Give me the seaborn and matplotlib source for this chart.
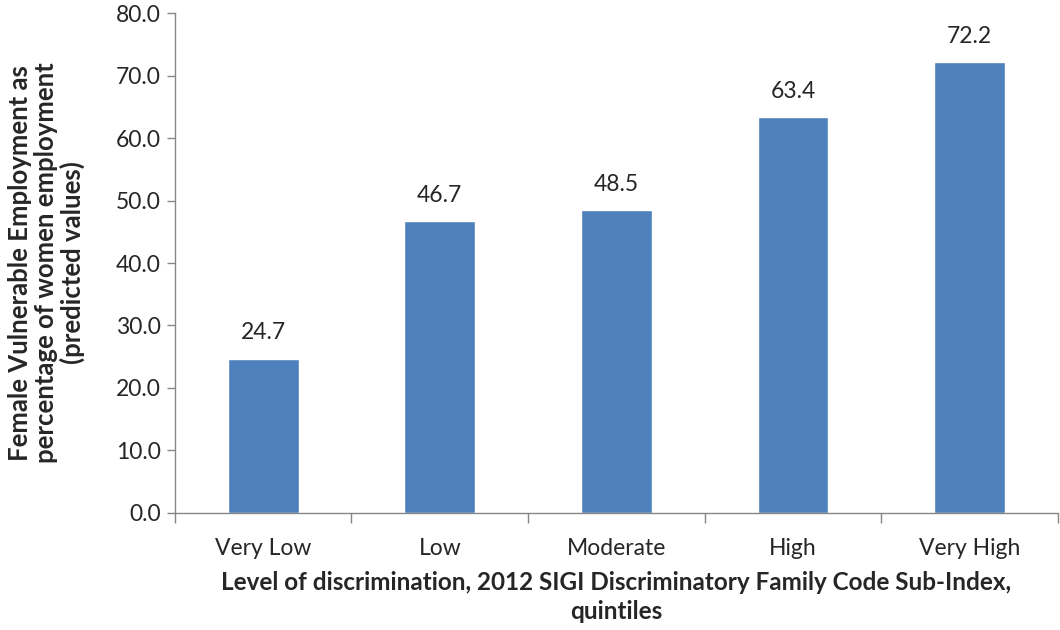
import matplotlib
matplotlib.use("Agg")
import matplotlib.pyplot as plt
import seaborn as sns
import pandas as pd
import numpy as np

categories = ["Very Low", "Low", "Moderate", "High", "Very High"]
values = [24.7, 46.7, 48.5, 63.4, 72.2]
yticks = [0, 10, 20, 30, 40, 50, 60, 70, 80]

sns.set_theme(style="white")
plt.rcParams['font.family'] = ['Lato', 'DejaVu Sans']

df = pd.DataFrame({"cat": categories, "val": values})

fig = plt.figure(figsize=(10.6, 6.3), dpi=100)
ax = fig.add_axes([0.165, 0.186, 0.833, 0.793])
sns.barplot(data=df, x="cat", y="val", color="#4F81BD", saturation=1, width=0.4, ax=ax)

gray = "#868686"
fs = 16.5
ax.set_ylim(0, 80)
ax.set_xlim(-0.5, len(categories) - 0.5)
ax.set_yticks(yticks)
ax.set_yticklabels([f"{v:.1f}" for v in yticks], fontsize=fs)
ax.tick_params(axis="y", length=6, color=gray, width=1, direction="out", left=True, pad=4)
ax.tick_params(axis="x", which="major", length=0, labelsize=fs, pad=18)
ax.set_xticks(np.arange(-0.5, len(categories)), minor=True)
ax.tick_params(axis="x", which="minor", length=7, color=gray, width=1, direction="out", bottom=True)

for s in ["top", "right"]:
    ax.spines[s].set_visible(False)
for s in ["left", "bottom"]:
    ax.spines[s].set_color(gray)
    ax.spines[s].set_linewidth(1)

for i, v in enumerate(values):
    ax.annotate(f"{v:.1f}", (i, v), xytext=(0, 11), textcoords="offset points",
                ha="center", va="bottom", fontsize=fs)

ax.set_xlabel("Level of discrimination, 2012 SIGI Discriminatory Family Code Sub-Index,\nquintiles",
              fontsize=17.5, fontweight="bold", labelpad=9, linespacing=1.3)
ax.set_ylabel("Female Vulnerable Employment as\npercentage of women employment\n(predicted values)",
              fontsize=18.5, fontweight="bold", labelpad=22, linespacing=1.1)

fig.savefig("out.png", dpi=100)
